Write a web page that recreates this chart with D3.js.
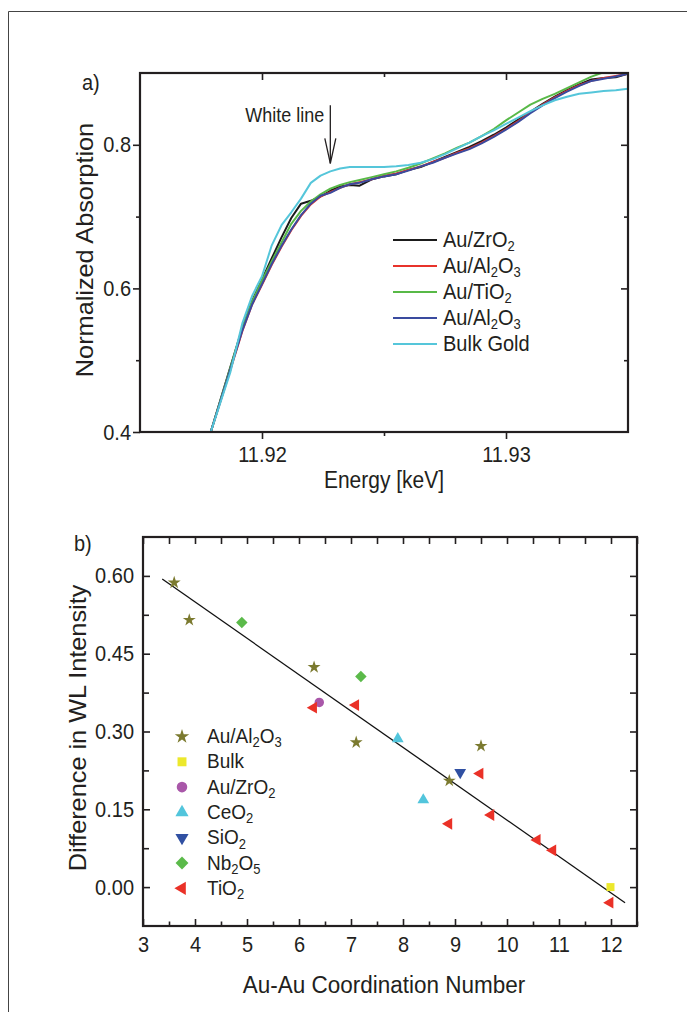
<!DOCTYPE html>
<html>
<head>
<meta charset="utf-8">
<script src="https://cdn.jsdelivr.net/npm/d3@7"></script>
<style>
  html, body { margin: 0; padding: 0; background: #fff; }
  svg { display: block; font-family: "Liberation Sans", Arial, sans-serif; }
</style>
</head>
<body>
<svg id="fig" width="687" height="1012"></svg>
<script>
// ---------- (a) XANES edge region ----------
const energy = [11.9179, 11.9187, 11.9192, 11.9196, 11.9200, 11.9204, 11.9208, 11.9212,
  11.9216, 11.9220, 11.9224, 11.9228, 11.9232, 11.9236, 11.9240, 11.9245, 11.9250,
  11.9255, 11.9260, 11.9265, 11.9270, 11.9275, 11.9280, 11.9285, 11.9290, 11.9295,
  11.9300, 11.9305, 11.9310, 11.9315, 11.9320, 11.9325, 11.9330, 11.9335, 11.9340,
  11.9345, 11.9350];

const absZrO2 = [0.400, 0.490, 0.546, 0.583, 0.612, 0.642, 0.671, 0.698, 0.718, 0.722,
  0.728, 0.736, 0.742, 0.744, 0.743, 0.752, 0.756, 0.759, 0.765, 0.769, 0.776, 0.783,
  0.790, 0.797, 0.805, 0.814, 0.824, 0.835, 0.846, 0.857, 0.867, 0.876, 0.884, 0.891,
  0.893, 0.894, 0.899];

const absAl2O3a = [0.400, 0.486, 0.541, 0.578, 0.605, 0.633, 0.658, 0.681, 0.701, 0.717,
  0.728, 0.734, 0.740, 0.745, 0.748, 0.752, 0.757, 0.760, 0.765, 0.770, 0.776, 0.782,
  0.789, 0.795, 0.803, 0.812, 0.822, 0.833, 0.845, 0.856, 0.866, 0.875, 0.883, 0.889,
  0.893, 0.896, 0.899];

const absTiO2 = [0.400, 0.489, 0.545, 0.582, 0.611, 0.638, 0.664, 0.690, 0.708, 0.721,
  0.731, 0.739, 0.744, 0.748, 0.751, 0.755, 0.759, 0.763, 0.768, 0.774, 0.781, 0.788,
  0.796, 0.803, 0.812, 0.822, 0.834, 0.845, 0.856, 0.864, 0.871, 0.879, 0.887, 0.895,
  0.901, 0.904, 0.906];

const absAl2O3b = [0.400, 0.487, 0.542, 0.578, 0.606, 0.634, 0.659, 0.682, 0.702, 0.718,
  0.729, 0.733, 0.740, 0.745, 0.747, 0.752, 0.756, 0.759, 0.764, 0.770, 0.775, 0.782,
  0.788, 0.794, 0.802, 0.811, 0.821, 0.832, 0.844, 0.855, 0.865, 0.874, 0.882, 0.889,
  0.892, 0.895, 0.899];

const absBulk = [0.400, 0.483, 0.552, 0.590, 0.617, 0.660, 0.688, 0.706, 0.725, 0.747,
  0.757, 0.763, 0.767, 0.769, 0.769, 0.769, 0.769, 0.770, 0.772, 0.775, 0.780, 0.787,
  0.795, 0.803, 0.812, 0.820, 0.829, 0.838, 0.847, 0.855, 0.862, 0.867, 0.871, 0.873,
  0.875, 0.876, 0.878];

const seriesA = [
  { label: "Au/ZrO2",  values: absZrO2,   color: "#1b1b1b" },
  { label: "Au/Al2O3", values: absAl2O3a, color: "#e8332b" },
  { label: "Au/TiO2",  values: absTiO2,   color: "#58b947" },
  { label: "Au/Al2O3", values: absAl2O3b, color: "#3a4b9f" },
  { label: "Bulk Gold", values: absBulk,  color: "#55c6da" }
];

const energyTicks = [11.92, 11.93];
const energyMinor = [11.925];
const absTicks = [0.4, 0.6, 0.8];
const absMinor = [0.5, 0.7];
const whiteLineE = 11.9228, whiteLineTop = 0.855, whiteLineTip = 0.774;

// ---------- (b) white-line intensity vs coordination ----------
const cnAl2O3 = [3.60, 3.89, 6.29, 7.10, 8.89, 9.50];
const wlAl2O3 = [0.587, 0.515, 0.424, 0.279, 0.205, 0.272];
const cnBulk = [11.99];
const wlBulk = [0.000];
const cnZrO2 = [6.39];
const wlZrO2 = [0.356];
const cnCeO2 = [7.90, 8.39];
const wlCeO2 = [0.286, 0.168];
const cnSiO2 = [9.10];
const wlSiO2 = [0.221];
const cnNb2O5 = [4.90, 7.19];
const wlNb2O5 = [0.510, 0.406];
const cnTiO2 = [6.28, 7.09, 8.88, 9.48, 9.69, 10.58, 10.88, 11.98];
const wlTiO2 = [0.346, 0.351, 0.122, 0.219, 0.139, 0.091, 0.071, -0.030];

const fitCN = [3.37, 12.27];
const fitWL = [0.594, -0.030];

const cnTicks = [3, 4, 5, 6, 7, 8, 9, 10, 11, 12];
const cnMinor = [3.5, 4.5, 5.5, 6.5, 7.5, 8.5, 9.5, 10.5, 11.5, 12.5];
const wlTicks = [0, 0.15, 0.30, 0.45, 0.60];
const wlMinor = [0.075, 0.225, 0.375, 0.525];

const seriesB = [
  { label: "Au/Al2O3", cn: cnAl2O3, wl: wlAl2O3, shape: "star",    color: "#7b7a2f" },
  { label: "Bulk",     cn: cnBulk,  wl: wlBulk,  shape: "square",  color: "#ece82c" },
  { label: "Au/ZrO2",  cn: cnZrO2,  wl: wlZrO2,  shape: "circle",  color: "#a957a9" },
  { label: "CeO2",     cn: cnCeO2,  wl: wlCeO2,  shape: "up",      color: "#52c5dc" },
  { label: "SiO2",     cn: cnSiO2,  wl: wlSiO2,  shape: "down",    color: "#3050a2" },
  { label: "Nb2O5",    cn: cnNb2O5, wl: wlNb2O5, shape: "diamond", color: "#5bba4a" },
  { label: "TiO2",     cn: cnTiO2,  wl: wlTiO2,  shape: "left",    color: "#ea3127" }
];

// ---------- drawing helpers ----------
const K = 1.1;              // vertical stretch of lettering
const INK = "#231f20";
const svg = d3.select("#fig");

svg.append("rect").attr("width", 687).attr("height", 1012).attr("fill", "#fff");
svg.append("path").attr("d", "M8.5,1012V11.5H687")
  .attr("fill", "none").attr("stroke", "#444").attr("stroke-width", 1);

function writeFormula(text, str, subSize, shift) {
  const parts = str.match(/[0-9]+|[^0-9]+/g);
  let prevSub = false;
  parts.forEach(p => {
    const isSub = /^[0-9]+$/.test(p);
    const t = text.append("tspan").text(p);
    if (isSub) { t.attr("font-size", subSize).attr("dy", shift); }
    else if (prevSub) { t.attr("dy", -shift); }
    prevSub = isSub;
  });
}

function label(x, y, str, size, anchor, rotate) {
  const g = svg.append("g")
    .attr("transform", `translate(${x},${y})` + (rotate ? " rotate(-90)" : ""));
  return g.append("text")
    .attr("transform", rotate ? `scale(${K},1)` : `scale(1,${K})`)
    .attr("font-size", size).attr("fill", INK)
    .attr("text-anchor", anchor || "start")
    .text(str);
}

function styleAxis(g, width) {
  g.select(".domain").remove();
  g.selectAll(".tick line").attr("stroke", INK).attr("stroke-width", width || 1.6);
  g.selectAll(".tick text").attr("fill", INK).attr("font-size", 20)
    .attr("font-family", "Liberation Sans, Arial, sans-serif")
    .attr("transform", `scale(1,${K})`);
}

function frame(x0, y0, x1, y1) {
  svg.append("rect").attr("x", x0).attr("y", y0)
    .attr("width", x1 - x0).attr("height", y1 - y0)
    .attr("fill", "none").attr("stroke", INK).attr("stroke-width", 2.2);
}

// ---------- panel (a) ----------
const ax = d3.scaleLinear().domain([11.915, 11.935]).range([140, 628]);
const ay = d3.scaleLinear().domain([0.4, 0.9]).range([432, 73]);

svg.append("clipPath").attr("id", "clipA").append("rect")
  .attr("x", 140).attr("y", 73).attr("width", 488).attr("height", 359);

const lineA = d3.line().x((d, i) => ax(energy[i])).y(d => ay(d));
const linesA = svg.append("g").attr("clip-path", "url(#clipA)");
seriesA.forEach(s => {
  linesA.append("path").datum(s.values).attr("d", lineA)
    .attr("fill", "none").attr("stroke", s.color).attr("stroke-width", 2)
    .attr("stroke-linejoin", "round");
});

// outward ticks bottom/left, inward ticks top/right
let g;
g = svg.append("g").attr("transform", "translate(0,432)")
  .call(d3.axisBottom(ax).tickValues(energyTicks).tickSize(7).tickPadding(6).tickFormat(d3.format(".2f")));
styleAxis(g);
g = svg.append("g").attr("transform", "translate(0,432)")
  .call(d3.axisBottom(ax).tickValues(energyMinor).tickSize(4).tickFormat(""));
styleAxis(g);
g = svg.append("g").attr("transform", "translate(0,73)")
  .call(d3.axisTop(ax).tickValues(energyTicks).tickSize(-7).tickFormat(""));
styleAxis(g);
g = svg.append("g").attr("transform", "translate(0,73)")
  .call(d3.axisTop(ax).tickValues(energyMinor).tickSize(-4).tickFormat(""));
styleAxis(g);
g = svg.append("g").attr("transform", "translate(140,0)")
  .call(d3.axisLeft(ay).tickValues(absTicks).tickSize(7).tickPadding(2).tickFormat(d3.format(".1f")));
styleAxis(g);
g = svg.append("g").attr("transform", "translate(140,0)")
  .call(d3.axisLeft(ay).tickValues(absMinor).tickSize(4).tickFormat(""));
styleAxis(g);
g = svg.append("g").attr("transform", "translate(628,0)")
  .call(d3.axisRight(ay).tickValues(absTicks.slice(1)).tickSize(-7).tickFormat(""));
styleAxis(g);
g = svg.append("g").attr("transform", "translate(628,0)")
  .call(d3.axisRight(ay).tickValues(absMinor).tickSize(-4).tickFormat(""));
styleAxis(g);
frame(140, 73, 628, 432);

// white line marker
const wlx = ax(whiteLineE);
svg.append("line").attr("x1", wlx).attr("x2", wlx)
  .attr("y1", ay(whiteLineTop)).attr("y2", ay(whiteLineTip))
  .attr("stroke", INK).attr("stroke-width", 1.3);
svg.append("path")
  .attr("d", `M${wlx - 5.5},${ay(whiteLineTip) - 25}L${wlx},${ay(whiteLineTip)}L${wlx + 5.5},${ay(whiteLineTip) - 25}`)
  .attr("fill", "none").attr("stroke", INK).attr("stroke-width", 1.3);
label(wlx - 6, 122, "White line", 18, "end");

// legend (a)
seriesA.forEach((s, i) => {
  const y = 240 + i * 26;
  svg.append("line").attr("x1", 393).attr("x2", 437).attr("y1", y).attr("y2", y)
    .attr("stroke", s.color).attr("stroke-width", 2.2);
  const t = label(443, y + 7, "", 20, "start");
  writeFormula(t, s.label, 13, 4);
});

label(82, 90, "a)", 20, "start");
label(384, 488, "Energy [keV]", 21, "middle");
label(93, 250, "Normalized Absorption", 23, "middle", true);

// ---------- panel (b) ----------
const bx = d3.scaleLinear().domain([3, 12.5]).range([143, 637]);
const by = d3.scaleLinear().domain([-0.075, 0.675]).range([926, 537]);

g = svg.append("g").attr("transform", "translate(0,926)")
  .call(d3.axisBottom(bx).tickValues(cnTicks).tickSize(-7).tickPadding(9).tickFormat(d3.format("d")));
styleAxis(g);
g = svg.append("g").attr("transform", "translate(0,926)")
  .call(d3.axisBottom(bx).tickValues(cnMinor).tickSize(-4.5).tickFormat(""));
styleAxis(g);
g = svg.append("g").attr("transform", "translate(0,537)")
  .call(d3.axisTop(bx).tickValues(cnTicks.concat(cnMinor)).tickSize(-7).tickFormat(""));
styleAxis(g);
g = svg.append("g").attr("transform", "translate(143,0)")
  .call(d3.axisLeft(by).tickValues(wlTicks).tickSize(-7).tickPadding(9).tickFormat(d3.format(".2f")));
styleAxis(g);
g = svg.append("g").attr("transform", "translate(143,0)")
  .call(d3.axisLeft(by).tickValues(wlMinor).tickSize(-6).tickFormat(""));
styleAxis(g);
g = svg.append("g").attr("transform", "translate(637,0)")
  .call(d3.axisRight(by).tickValues(wlTicks.concat(wlMinor)).tickSize(-7).tickFormat(""));
styleAxis(g);
frame(143, 537, 637, 926);

// linear fit
svg.append("path")
  .datum(fitCN.map((c, i) => [c, fitWL[i]]))
  .attr("d", d3.line().x(d => bx(d[0])).y(d => by(d[1])))
  .attr("stroke", "#111").attr("stroke-width", 1.3).attr("fill", "none");

const shapes = {
  star:    { type: d3.symbolStar,     size: 52,  rot: 0 },
  square:  { type: d3.symbolSquare,   size: 64,  rot: 0 },
  circle:  { type: d3.symbolCircle,   size: 70,  rot: 0 },
  up:      { type: d3.symbolTriangle, size: 60,  rot: 0 },
  down:    { type: d3.symbolTriangle, size: 60,  rot: 180 },
  diamond: { type: d3.symbolSquare,   size: 66,  rot: 45 },
  left:    { type: d3.symbolTriangle, size: 60,  rot: -90 }
};

function marker(sel, s, x, y, scale) {
  const sh = shapes[s.shape];
  sel.append("path")
    .attr("d", d3.symbol().type(sh.type).size(sh.size * (scale || 1))())
    .attr("transform", `translate(${x},${y}) rotate(${sh.rot})`)
    .attr("fill", s.color);
}

const pts = svg.append("g");
seriesB.forEach(s => {
  s.cn.forEach((c, i) => marker(pts, s, bx(c), by(s.wl[i])));
});

// legend (b)
seriesB.forEach((s, i) => {
  const base = 743 + i * 25.3;
  marker(svg, s, 182, base - 6.5, 1.25);
  const t = label(207, base, "", 19, "start");
  writeFormula(t, s.label, 13, 4);
});

label(74, 551, "b)", 20, "start");
label(384, 993, "Au-Au Coordination Number", 22.5, "middle");
label(86, 728, "Difference in WL Intensity", 23, "middle", true);
</script>
</body>
</html>
